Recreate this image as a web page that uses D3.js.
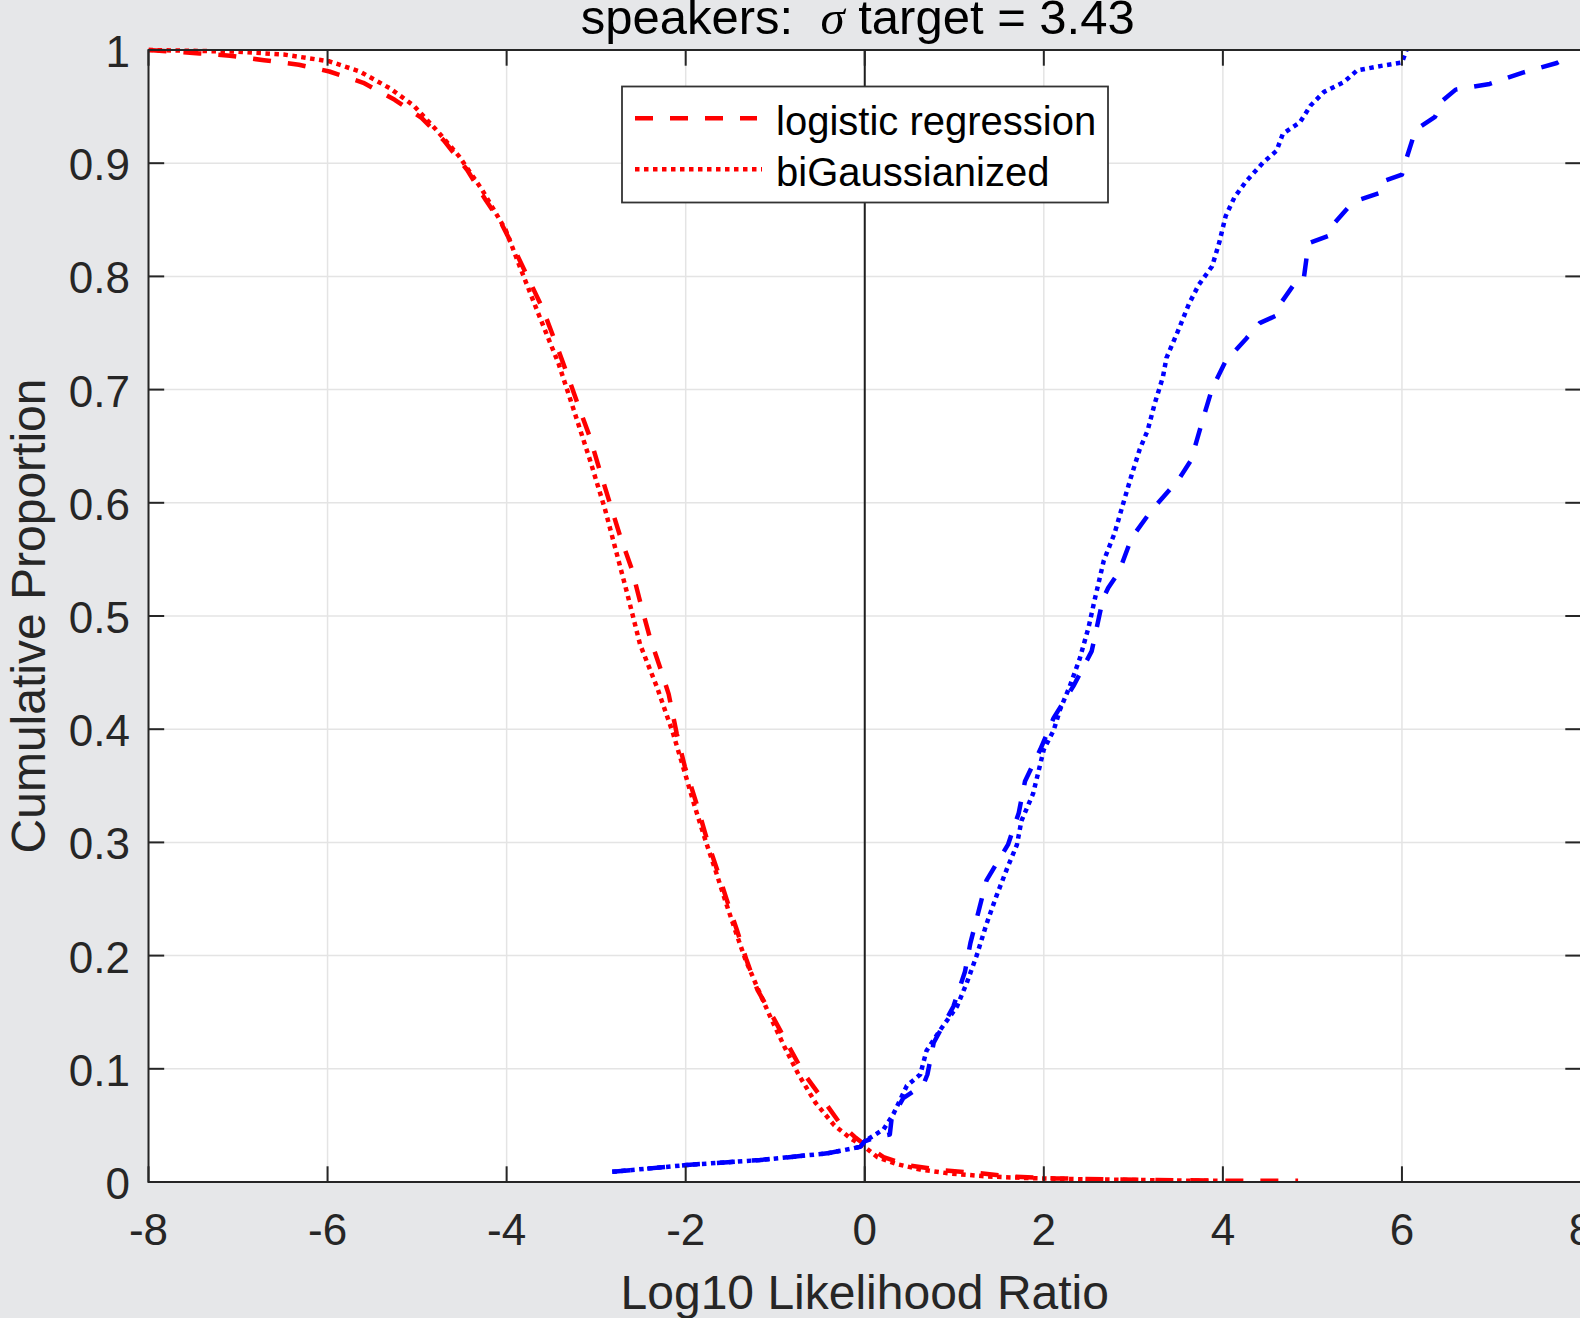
<!DOCTYPE html>
<html>
<head>
<meta charset="utf-8">
<script src="https://cdn.jsdelivr.net/npm/d3@7/dist/d3.min.js"></script>
<style>
  body { margin: 0; background: #e6e7e9; }
  svg text { font-family: "Liberation Sans", Arial, Helvetica, sans-serif; }
</style>
</head>
<body>
<div id="chart"></div>
<script>
// tick values / labels
const xTicks = [-8, -6, -4, -2, 0, 2, 4, 6, 8];
const xTickLabels = ["-8", "-6", "-4", "-2", "0", "2", "4", "6", "8"];
const yTicks = [0, 0.1, 0.2, 0.3, 0.4, 0.5, 0.6, 0.7, 0.8, 0.9, 1];
const yTickLabels = ["0", "0.1", "0.2", "0.3", "0.4", "0.5", "0.6", "0.7", "0.8", "0.9", "1"];

// different-speaker, logistic regression (red dashed)
const diffLogRegX = [-8, -7.43, -7.09, -6.71, -6.32, -5.98, -5.60, -5.25, -4.95, -4.70, -4.44, -4.23, -4.06, -3.92, -3.75, -3.60, -3.46, -3.33, -3.20, -3.07, -2.95, -2.84, -2.73, -2.60, -2.51, -2.40, -2.28, -2.19, -2.10, -2.01, -1.87, -1.76, -1.65, -1.54, -1.43, -1.32, -1.20, -1.02, -0.87, -0.69, -0.46, -0.28, -0.10, 0.0, 0.21, 0.47, 0.84, 1.29, 1.66, 2.14, 2.70, 3.26, 4.0, 4.84];
const diffLogRegY = [1.0, 0.997, 0.995, 0.991, 0.987, 0.981, 0.971, 0.956, 0.940, 0.920, 0.894, 0.867, 0.847, 0.825, 0.797, 0.772, 0.743, 0.715, 0.686, 0.658, 0.626, 0.598, 0.570, 0.541, 0.513, 0.481, 0.453, 0.431, 0.396, 0.367, 0.332, 0.302, 0.276, 0.249, 0.223, 0.196, 0.170, 0.145, 0.123, 0.097, 0.072, 0.052, 0.039, 0.033, 0.022, 0.015, 0.0106, 0.0077, 0.0047, 0.0032, 0.0024, 0.0018, 0.0012, 0.001];

// different-speaker, biGaussianized (red dotted)
const diffBiGaussX = [-8, -7.0, -6.49, -5.98, -5.64, -5.30, -5.04, -4.78, -4.53, -4.27, -4.01, -3.84, -3.63, -3.42, -3.25, -3.07, -2.90, -2.82, -2.66, -2.51, -2.32, -2.14, -2.03, -1.90, -1.78, -1.67, -1.56, -1.45, -1.33, -1.19, -1.05, -0.90, -0.74, -0.55, -0.34, -0.15, 0.0, 0.14, 0.35, 0.62, 0.95, 1.35, 1.8, 2.4, 3.0, 3.6, 3.95];
const diffBiGaussY = [1.0, 0.9985, 0.996, 0.990, 0.981, 0.966, 0.951, 0.929, 0.906, 0.876, 0.841, 0.806, 0.764, 0.723, 0.682, 0.638, 0.594, 0.570, 0.522, 0.475, 0.437, 0.396, 0.367, 0.332, 0.302, 0.276, 0.249, 0.223, 0.196, 0.170, 0.145, 0.120, 0.095, 0.070, 0.050, 0.038, 0.031, 0.022, 0.016, 0.011, 0.0075, 0.005, 0.0035, 0.0025, 0.0018, 0.0012, 0.001];

// same-speaker, logistic regression (blue dashed)
const sameLogRegX = [-2.82, -1.99, -1.17, -0.42, -0.05, 0.0, 0.15, 0.28, 0.30, 0.43, 0.655, 0.70, 0.77, 0.99, 1.12, 1.18, 1.36, 1.60, 1.72, 1.79, 1.96, 2.11, 2.33, 2.535, 2.66, 2.72, 2.84, 2.98, 3.20, 3.50, 3.64, 3.69, 3.79, 3.88, 4.03, 4.26, 4.41, 4.60, 4.64, 4.79, 4.90, 4.94, 4.98, 5.20, 5.24, 5.39, 5.50, 5.75, 5.79, 6.0, 6.05, 6.13, 6.18, 6.37, 6.45, 6.60, 6.98, 7.35, 7.73, 7.81, 7.82];
const sameLogRegY = [0.009, 0.015, 0.0194, 0.0253, 0.031, 0.036, 0.040, 0.042, 0.056, 0.074, 0.086, 0.095, 0.123, 0.155, 0.186, 0.211, 0.2665, 0.298, 0.326, 0.354, 0.382, 0.410, 0.438, 0.469, 0.515, 0.525, 0.539, 0.569, 0.593, 0.620, 0.637, 0.650, 0.6775, 0.701, 0.725, 0.745, 0.7587, 0.7655, 0.7755, 0.7925, 0.796, 0.8195, 0.830, 0.8364, 0.8466, 0.860, 0.867, 0.8736, 0.884, 0.890, 0.904, 0.924, 0.931, 0.941, 0.955, 0.965, 0.970, 0.980, 0.9885, 0.992, 1.0];

// same-speaker, biGaussianized (blue dotted)
const sameBiGaussX = [-2.82, -1.99, -1.17, -0.42, -0.05, 0.0, 0.21, 0.32, 0.47, 0.62, 0.69, 0.84, 1.03, 1.14, 1.25, 1.36, 1.47, 1.59, 1.70, 1.75, 1.88, 2.0, 2.11, 2.18, 2.29, 2.40, 2.50, 2.57, 2.67, 2.79, 2.90, 2.975, 3.07, 3.16, 3.24, 3.33, 3.37, 3.50, 3.62, 3.73, 3.88, 3.96, 4.03, 4.13, 4.26, 4.45, 4.60, 4.67, 4.86, 4.98, 5.13, 5.35, 5.50, 5.77, 6.0, 6.03, 6.05];
const sameBiGaussY = [0.009, 0.015, 0.0194, 0.0253, 0.031, 0.036, 0.0465, 0.060, 0.085, 0.095, 0.116, 0.134, 0.155, 0.176, 0.200, 0.228, 0.2525, 0.277, 0.298, 0.319, 0.343, 0.382, 0.399, 0.417, 0.438, 0.462, 0.490, 0.515, 0.549, 0.573, 0.603, 0.623, 0.647, 0.664, 0.688, 0.711, 0.728, 0.752, 0.7755, 0.7925, 0.809, 0.830, 0.853, 0.870, 0.884, 0.9006, 0.911, 0.926, 0.936, 0.951, 0.963, 0.9716, 0.982, 0.986, 0.989, 0.9953, 1.0];

const legendLabels = ["logistic regression", "biGaussianized"];

const width = 1580, height = 1318;
const plot = { left: 148.5, right: 1581, top: 50, bottom: 1182 };
const tickLen = 15.7;
const axisColor = "#262626";
const lineW = 4.5;

const svg = d3.select("#chart").append("svg")
    .attr("width", width)
    .attr("height", height);

svg.append("rect").attr("width", width).attr("height", height).attr("fill", "#e6e7e9");

const x = d3.scaleLinear().domain([-8, 8]).range([plot.left, plot.right]);
const y = d3.scaleLinear().domain([0, 1]).range([plot.bottom, plot.top]);

svg.append("rect")
    .attr("x", plot.left).attr("y", plot.top)
    .attr("width", plot.right - plot.left).attr("height", plot.bottom - plot.top)
    .attr("fill", "#ffffff");

// grid
svg.append("g").selectAll("line").data(xTicks).enter().append("line")
    .attr("x1", d => x(d)).attr("x2", d => x(d))
    .attr("y1", plot.top).attr("y2", plot.bottom)
    .attr("stroke", "#e4e4e4").attr("stroke-width", 1.5);
svg.append("g").selectAll("line").data(yTicks).enter().append("line")
    .attr("x1", plot.left).attr("x2", plot.right)
    .attr("y1", d => y(d)).attr("y2", d => y(d))
    .attr("stroke", "#e4e4e4").attr("stroke-width", 1.5);

// vertical reference line at 0
svg.append("line")
    .attr("x1", x(0)).attr("x2", x(0))
    .attr("y1", plot.top).attr("y2", plot.bottom)
    .attr("stroke", "#1e1e1e").attr("stroke-width", 2);

svg.append("clipPath").attr("id", "plotclip").append("rect")
    .attr("x", plot.left).attr("y", plot.top - 3)
    .attr("width", plot.right - plot.left).attr("height", plot.bottom - plot.top + 6);

const line = d3.line().x(d => x(d[0])).y(d => y(d[1]));
const zip = (xs, ys) => xs.map((v, i) => [v, ys[i]]);

const series = [
    { xs: diffLogRegX, ys: diffLogRegY, color: "#ff0000", dash: "18,17" },
    { xs: diffBiGaussX, ys: diffBiGaussY, color: "#ff0000", dash: "4.5,4.5" },
    { xs: sameLogRegX, ys: sameLogRegY, color: "#0000ff", dash: "18,17" },
    { xs: sameBiGaussX, ys: sameBiGaussY, color: "#0000ff", dash: "4.5,4.5" }
];

const curves = svg.append("g").attr("clip-path", "url(#plotclip)");
series.forEach(s => {
    curves.append("path")
        .attr("d", line(zip(s.xs, s.ys)))
        .attr("fill", "none")
        .attr("stroke", s.color)
        .attr("stroke-width", lineW)
        .attr("stroke-dasharray", s.dash)
        .attr("stroke-linejoin", "round");
});

// axes box
const axes = svg.append("g").attr("stroke", axisColor).attr("stroke-width", 2);
axes.append("rect")
    .attr("x", plot.left).attr("y", plot.top)
    .attr("width", plot.right - plot.left).attr("height", plot.bottom - plot.top)
    .attr("fill", "none");

// ticks (inside)
xTicks.forEach(t => {
    axes.append("line").attr("x1", x(t)).attr("x2", x(t)).attr("y1", plot.bottom).attr("y2", plot.bottom - tickLen);
    axes.append("line").attr("x1", x(t)).attr("x2", x(t)).attr("y1", plot.top).attr("y2", plot.top + tickLen);
});
yTicks.forEach(t => {
    axes.append("line").attr("x1", plot.left).attr("x2", plot.left + tickLen).attr("y1", y(t)).attr("y2", y(t));
    axes.append("line").attr("x1", plot.right - tickLen).attr("x2", plot.right).attr("y1", y(t)).attr("y2", y(t));
});

// tick labels
svg.append("g").selectAll("text").data(xTicks).enter().append("text")
    .attr("x", d => x(d)).attr("y", 1245)
    .attr("text-anchor", "middle")
    .style("font-size", "44px").style("fill", axisColor)
    .text((d, i) => xTickLabels[i]);

svg.append("g").selectAll("text").data(yTicks).enter().append("text")
    .attr("x", 130).attr("y", d => y(d) + 17)
    .attr("text-anchor", "end")
    .style("font-size", "44px").style("fill", axisColor)
    .text((d, i) => yTickLabels[i]);

// axis labels
svg.append("text")
    .attr("x", (plot.left + plot.right) / 2).attr("y", 1309)
    .attr("text-anchor", "middle")
    .style("font-size", "48px").style("fill", axisColor)
    .text("Log10 Likelihood Ratio");

svg.append("text")
    .attr("transform", `translate(45, ${(plot.top + plot.bottom) / 2}) rotate(-90)`)
    .attr("text-anchor", "middle")
    .style("font-size", "48px").style("fill", axisColor)
    .text("Cumulative Proportion");

// title
const title = svg.append("text")
    .attr("x", (plot.left + plot.right) / 2 - 7).attr("y", 34)
    .attr("text-anchor", "middle")
    .style("font-size", "49px").style("fill", "#000")
    .style("white-space", "pre");
title.append("tspan").text("speakers:  ");
title.append("tspan")
    .style("font-family", "'Liberation Serif', 'DejaVu Serif', serif")
    .style("font-style", "italic")
    .text("σ");
title.append("tspan").text(" target = 3.43");

// legend
const legend = svg.append("g");
legend.append("rect")
    .attr("x", 622).attr("y", 86.5)
    .attr("width", 486).attr("height", 116)
    .attr("fill", "#ffffff").attr("stroke", "#333333").attr("stroke-width", 1.8);

const legendRows = [
    { label: legendLabels[0], dash: "18,17", y: 118.3, x2: 757 },
    { label: legendLabels[1], dash: "4.5,4.5", y: 169.3, x2: 762 }
];
legendRows.forEach(r => {
    legend.append("line")
        .attr("x1", 635).attr("x2", r.x2)
        .attr("y1", r.y).attr("y2", r.y)
        .attr("stroke", "#ff0000").attr("stroke-width", lineW)
        .attr("stroke-dasharray", r.dash);
    legend.append("text")
        .attr("x", 776).attr("y", r.y + 16.5)
        .style("font-size", "40px").style("fill", "#000")
        .text(r.label);
});
</script>
</body>
</html>
